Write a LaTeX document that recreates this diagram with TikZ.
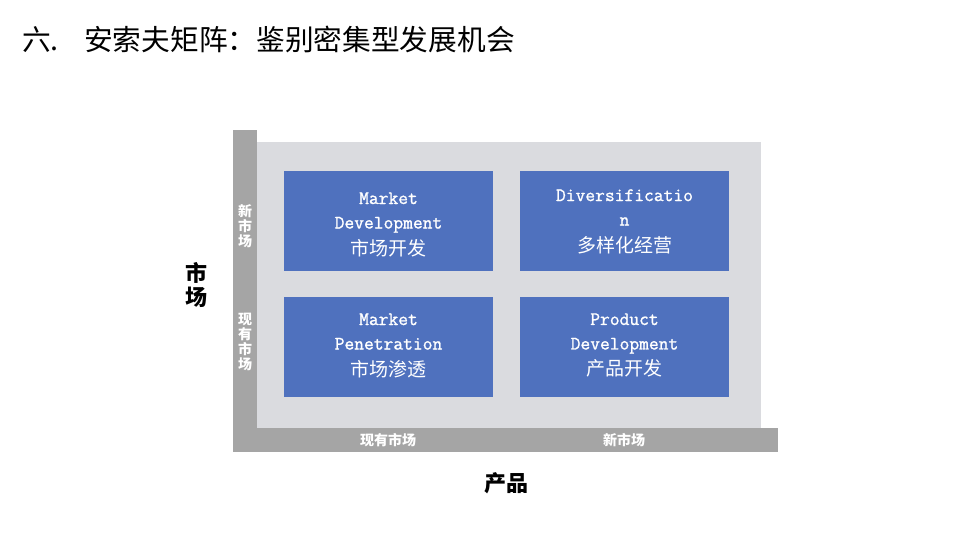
\documentclass[tikz,border=0pt]{standalone}
\usepackage{fontspec}
\newfontfamily\cjk{Noto Sans CJK SC}
\newfontfamily\mono[FakeBold=1.2]{Latin Modern Mono}
\definecolor{boxblue}{RGB}{79,113,190}
\definecolor{bggray}{RGB}{218,219,223}
\definecolor{bargray}{RGB}{165,165,165}
\tikzset{
  area/.style={fill=bggray, draw=none, inner sep=0},
  bar/.style={fill=bargray, draw=none, inner sep=0},
  quad/.style={fill=boxblue, draw=none, inner sep=0, minimum width=209pt, minimum height=100pt},
  quadtext/.style={text=white, inner sep=0, align=center, font=\mono\bfseries\fontsize{19}{24.5}\selectfont},
  barlabel/.style={text=white, inner sep=0, align=center, font=\cjk\bfseries\fontsize{14}{15}\selectfont},
  axislabel/.style={text=black, inner sep=0, align=center, font=\cjk\bfseries\fontsize{22}{24}\selectfont},
  title/.style={text=black, inner sep=0, anchor=base west, font=\cjk\fontsize{28.7}{32}\selectfont}
}
\newcommand{\zh}[1]{{\cjk\mdseries\fontsize{19}{24.5}\selectfont #1}}
\begin{document}
\begin{tikzpicture}[x=1pt,y=-1pt]
\useasboundingbox (0,0) rectangle (960,540);
% title
\node[title] (t1) at (22,51) {六.};
\node[title] (t2) at (84,51) {安索夫矩阵：鉴别密集型发展机会};
% background area and bars
\node[area, minimum width=504pt, minimum height=286pt] (bg) at (509,285) {};
\node[bar, minimum width=24pt, minimum height=322pt] (lbar) at (245,291) {};
\node[bar, minimum width=545pt, minimum height=24pt] (bbar) at (505.5,440) {};
% quadrants
\node[quad] (md) at (388.5,221) {};
\node[quad] (dv) at (624.5,221) {};
\node[quad] (mp) at (388.5,347) {};
\node[quad] (pd) at (624.5,347) {};
\node[quadtext] (mdt) at ([yshift=-3.5pt]md.center) {Market\\Development\\[2pt]\zh{市场开发}};
\node[quadtext] (dvt) at ([yshift=-0.5pt]dv.center) {Diversificatio\\n\\[2pt]\zh{多样化经营}};
\node[quadtext] (mpt) at ([yshift=1.5pt]mp.center) {Market\\Penetration\\[2pt]\zh{市场渗透}};
\node[quadtext] (pdt) at ([yshift=1.5pt]pd.center) {Product\\Development\\[2pt]\zh{产品开发}};
% bar labels
\node[barlabel] (ln) at (245,226) {新\\市\\场};
\node[barlabel] (le) at (245,342) {现\\有\\市\\场};
\node[barlabel] (be) at (388,440) {现有市场};
\node[barlabel] (bn) at (624,440) {新市场};
% axis labels
\node[axislabel] (ym) at (196,285) {市\\场};
\node[axislabel] (xp) at (506,483) {产品};
\end{tikzpicture}
\end{document}
